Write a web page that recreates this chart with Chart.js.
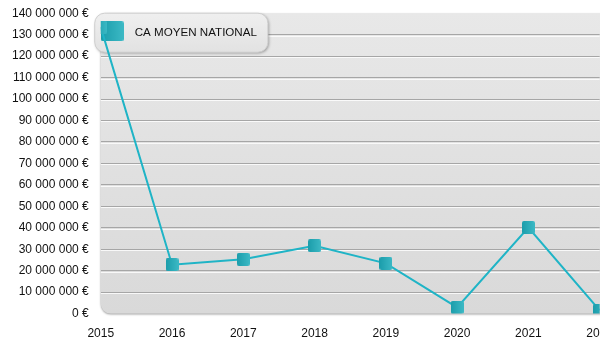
<!DOCTYPE html>
<html>
<head>
<meta charset="utf-8">
<script src="https://cdn.jsdelivr.net/npm/chart.js"></script>
<style>
  html, body { margin: 0; padding: 0; background: #fff; overflow: hidden; }
  #wrap { position: relative; width: 626px; height: 360px; margin-top: -6px; }
</style>
</head>
<body>
<div id="wrap"><canvas id="caChart"></canvas></div>
<script>
// DATA
const years = ['2015', '2016', '2017', '2018', '2019', '2020', '2021', '2022'];
const caMoyen = [133500000, 22800000, 25300000, 31600000, 23400000, 2900000, 40100000, 1500000];
const seriesLabel = 'CA MOYEN NATIONAL';
const yMax = 140000000;
const yStep = 10000000;

const FONT = '"Liberation Sans", Arial, sans-serif';

function euro(v) {
    return String(v).replace(/\B(?=(\d{3})+(?!\d))/g, ' ') + ' €';
}

// teal square with a left-to-right gradient, used for points and legend
function makeMarker(w, h) {
    const c = document.createElement('canvas');
    c.width = w;
    c.height = h;
    const x = c.getContext('2d');
    const g = x.createLinearGradient(0, 0, w, 0);
    g.addColorStop(0, '#1b9dab');
    g.addColorStop(1, '#3cb9c5');
    x.fillStyle = g;
    x.beginPath();
    x.roundRect(0, 0, w, h, 2);
    x.fill();
    return c;
}

const pointMarker = makeMarker(13, 13);
const legendMarker = makeMarker(23, 20);


// BACKGROUND, HIGHLIGHTS, LEGEND
const decorations = {
    id: 'decorations',
    beforeDraw(chart) {
        const { ctx, chartArea: a } = chart;
        ctx.save();
        ctx.shadowColor = 'rgba(0, 0, 0, 0.35)';
        ctx.shadowBlur = 2;
        ctx.shadowOffsetY = 1;
        const g = ctx.createLinearGradient(0, a.top, 0, a.bottom);
        g.addColorStop(0, '#e8e8e8');
        g.addColorStop(1, '#d9d9d9');
        ctx.fillStyle = g;
        ctx.beginPath();
        ctx.roundRect(a.left, a.top, chart.width - a.left + 20, a.bottom - a.top, 10);
        ctx.fill();
        ctx.restore();
    },
    beforeDatasetsDraw(chart) {
        const { ctx, chartArea: a } = chart;
        const y = chart.scales.y;

        // white line under each grid line
        ctx.save();
        ctx.strokeStyle = 'rgba(255, 255, 255, 0.8)';
        ctx.lineWidth = 1;
        y.ticks.forEach(t => {
            if (t.value <= 0 || t.value >= yMax) return;
            const py = Math.round(y.getPixelForValue(t.value)) + 1.5;
            ctx.beginPath();
            ctx.moveTo(a.left, py);
            ctx.lineTo(a.right, py);
            ctx.stroke();
        });
        ctx.restore();

        // legend box
        ctx.save();
        ctx.font = '11.6px ' + FONT;
        const label = chart.data.datasets[0].label;
        const tw = ctx.measureText(label).width;
        const bx = a.left - 6;
        const by = a.top;
        const bw = 5 + 23 + 11 + tw + 12;
        const bh = 39;

        ctx.shadowColor = 'rgba(0, 0, 0, 0.35)';
        ctx.shadowBlur = 3;
        ctx.shadowOffsetX = 1;
        ctx.shadowOffsetY = 1;
        const g = ctx.createLinearGradient(0, by, 0, by + bh);
        g.addColorStop(0, '#efefef');
        g.addColorStop(1, '#e2e2e2');
        ctx.fillStyle = g;
        ctx.beginPath();
        ctx.roundRect(bx, by, bw, bh, 10);
        ctx.fill();
        ctx.shadowColor = 'transparent';
        ctx.strokeStyle = '#cfcfcf';
        ctx.lineWidth = 1;
        ctx.stroke();

        ctx.drawImage(legendMarker, bx + 6, by + 8);
        ctx.fillStyle = '#111';
        ctx.textBaseline = 'middle';
        ctx.fillText(label, bx + 40, by + bh / 2);
        ctx.restore();
    }
};


// CHART
const ctx = document.getElementById('caChart').getContext('2d');

new Chart(ctx, {
    type: 'line',
    data: {
        labels: years,
        datasets: [{
            label: seriesLabel,
            data: caMoyen,
            borderColor: '#1fb4c6',
            borderWidth: 2,
            tension: 0,
            pointStyle: pointMarker,
            clip: 0
        }]
    },
    options: {
        responsive: true,
        maintainAspectRatio: false,
        animation: false,
        layout: {
            autoPadding: false,
            padding: { left: 0, top: 0, right: 0, bottom: 0 }
        },
        plugins: {
            legend: { display: false },
            tooltip: { enabled: false }
        },
        scales: {
            x: {
                grid: { display: false, drawTicks: false },
                border: { display: false },
                ticks: {
                    color: '#111',
                    padding: 13,
                    maxRotation: 0,
                    autoSkip: false,
                    font: { family: FONT, size: 12 }
                }
            },
            y: {
                min: 0,
                max: yMax,
                border: { display: false },
                grid: {
                    drawTicks: false,
                    color: c => (c.tick.value <= 0 || c.tick.value >= yMax) ? 'rgba(0,0,0,0)' : '#a6a6a6'
                },
                ticks: {
                    stepSize: yStep,
                    color: '#111',
                    padding: 12,
                    font: { family: FONT, size: 12 },
                    callback: v => euro(v)
                }
            }
        }
    },
    plugins: [decorations]
});
</script>
</body>
</html>
